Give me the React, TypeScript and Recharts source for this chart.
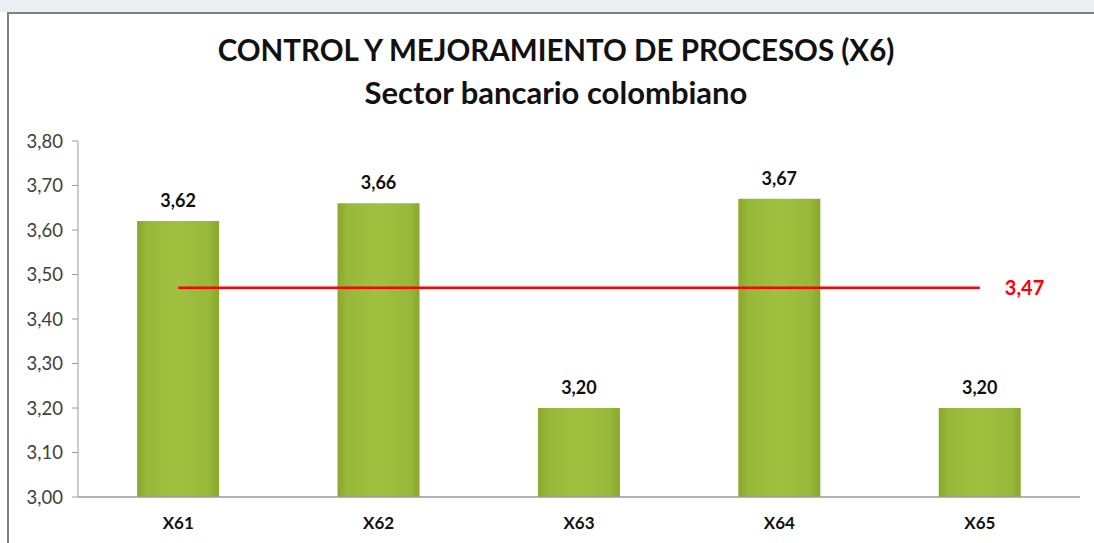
import { ComposedChart, Bar, Line, XAxis, YAxis, LabelList } from 'recharts'

const categories = ['X61', 'X62', 'X63', 'X64', 'X65']
const scores = [3.62, 3.66, 3.2, 3.67, 3.2]
const average = [3.47, 3.47, 3.47, 3.47, 3.47]
const yTicks = [3.0, 3.1, 3.2, 3.3, 3.4, 3.5, 3.6, 3.7, 3.8]

const data = categories.map((name, i) => ({ name, score: scores[i], avg: average[i] }))

const fmt = (v: number) => v.toFixed(2).replace('.', ',')
const FONT = 'Lato, "Open Sans", sans-serif'

function AvgLabel(props: any) {
  const { x, y, index, value } = props
  if (index !== categories.length - 1) return null
  return (
    <text x={x + 25} y={y} dy={7} fill="#ff0000" fontSize={20} fontWeight={700} fontFamily={FONT}>
      {fmt(value)}
    </text>
  )
}

export default function App() {
  return (
    <div style={{ position: 'absolute', left: 0, top: 0, width: 1094, height: 543, background: '#fff', overflow: 'hidden' }}>
      <div style={{ position: 'absolute', left: 0, top: 0, width: 1094, height: 12, background: '#eceef2' }} />
      <div style={{ position: 'absolute', left: 7, top: 12, width: 1100, height: 540, borderLeft: '2px solid #808080', borderTop: '2px solid #808080' }} />
      <div style={{ position: 'absolute', left: 0, top: 28, width: 1112, textAlign: 'center', fontFamily: FONT, fontWeight: 700, color: '#111' }}>
        <div style={{ fontSize: 29.5, lineHeight: '43px' }}>CONTROL Y MEJORAMIENTO DE PROCESOS (X6)</div>
        <div style={{ fontSize: 31, lineHeight: '43px' }}>Sector bancario colombiano</div>
      </div>
      <ComposedChart
        width={1094}
        height={543}
        data={data}
        margin={{ top: 141, right: 14, bottom: 16, left: 18 }}
        barCategoryGap="29.5%"
        style={{ position: 'absolute', left: 0, top: 0 }}
      >
        <defs>
          <linearGradient id="barGreen" x1="0" y1="0" x2="1" y2="0">
            <stop offset="0%" stopColor="#89a82c" />
            <stop offset="12%" stopColor="#98b83a" />
            <stop offset="50%" stopColor="#a0c040" />
            <stop offset="88%" stopColor="#98b83a" />
            <stop offset="100%" stopColor="#89a82c" />
          </linearGradient>
        </defs>
        <XAxis
          dataKey="name"
          axisLine={{ stroke: '#9a9a9a', strokeWidth: 1.5 }}
          tickLine={false}
          tick={{ fill: '#111', fontSize: 17, fontWeight: 700, fontFamily: FONT }}
          tickMargin={14}
        />
        <YAxis
          domain={[3, 3.8]}
          ticks={yTicks}
          width={60}
          tickFormatter={fmt}
          axisLine={{ stroke: '#9a9a9a', strokeWidth: 1 }}
          tickLine={{ stroke: '#9a9a9a' }}
          tickSize={6}
          tick={{ fill: '#404040', fontSize: 18.5, fontFamily: FONT }}
          tickMargin={9}
          allowDataOverflow
        />
        <Bar dataKey="score" fill="url(#barGreen)" isAnimationActive={false}>
          <LabelList
            dataKey="score"
            position="top"
            offset={14}
            formatter={(v: any) => fmt(Number(v))}
            style={{ fill: '#111', fontSize: 18, fontWeight: 700, fontFamily: FONT }}
          />
        </Bar>
        <Line
          dataKey="avg"
          stroke="#ff0000"
          strokeWidth={2.5}
          dot={false}
          activeDot={false}
          isAnimationActive={false}
        >
          <LabelList dataKey="avg" content={<AvgLabel />} />
        </Line>
      </ComposedChart>
    </div>
  )
}
